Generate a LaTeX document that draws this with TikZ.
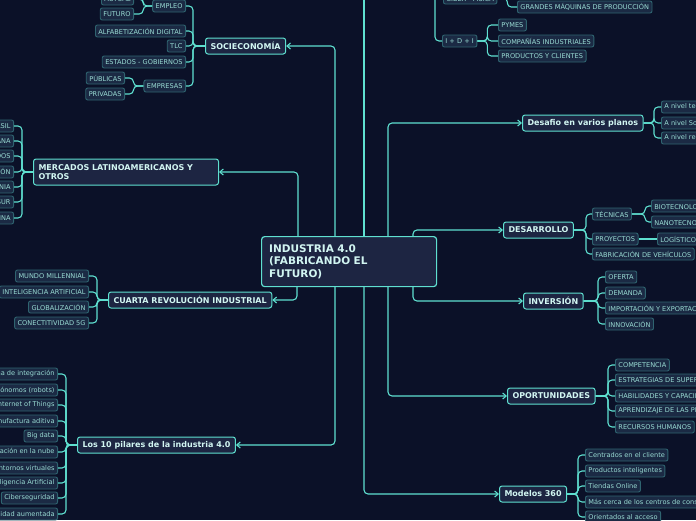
\documentclass[tikz,border=0pt]{standalone}
\usepackage{fontspec}
\setmainfont{DejaVu Sans}
\usetikzlibrary{arrows.meta}
\definecolor{bg}{HTML}{0B1128}
\definecolor{ln}{HTML}{5FE0D0}
\definecolor{mfill}{HTML}{1D2542}
\definecolor{lfill}{HTML}{1B2A44}
\definecolor{lbord}{HTML}{2F6470}
\definecolor{ltext}{HTML}{9ADCD4}
\definecolor{btext}{HTML}{D2F6F2}
\tikzset{
 mainbox/.style={draw=ln,line width=1.2pt,fill=mfill,rounded corners=3pt,text=btext,font=\fontsize{10.5}{12.5}\selectfont\bfseries,align=left,text width=160pt,minimum height=50pt,inner xsep=7pt},
 brbox/.style={draw=ln,line width=1pt,fill=mfill,rounded corners=2.5pt,text=btext,font=\fontsize{8}{9.5}\selectfont\bfseries,minimum height=16pt,inner xsep=5pt,inner ysep=2pt},
 leaf/.style={draw=lbord,line width=0.9pt,fill=lfill,rounded corners=2pt,text=ltext,font=\fontsize{6.6}{7.4}\selectfont,minimum height=12pt,inner xsep=3pt,inner ysep=1.5pt},
 conn/.style={draw=ln,line width=1.1pt,rounded corners=4pt},
 aconn/.style={conn,-{Straight Barb[length=3.5pt,width=6pt]}},
}
\begin{document}
\begin{tikzpicture}[x=1pt,y=-1pt]
\fill[bg] (0,0) rectangle (696,520);
\clip (0,0) rectangle (696,520);
\useasboundingbox (0,0) rectangle (696,520);

\node[mainbox,anchor=north west,minimum width=175pt] (c) at (261,236) {INDUSTRIA 4.0\\(FABRICANDO EL\\FUTURO)};

% branches
\node[brbox,anchor=west] (soc) at (205,46) {SOCIECONOMÍA};
\node[brbox,anchor=west,align=left,text width=175pt,minimum height=26pt] (mer) at (33,172) {MERCADOS LATINOAMERICANOS Y\\OTROS};
\node[brbox,anchor=west] (cua) at (108,300) {CUARTA REVOLUCIÓN INDUSTRIAL};
\node[brbox,anchor=west] (pil) at (77,445) {Los 10 pilares de la industria 4.0};
\node[brbox,anchor=west] (des) at (522,123) {Desafio en varios planos};
\node[brbox,anchor=west] (dsr) at (503,230) {DESARROLLO};
\node[brbox,anchor=west] (inv) at (523,301) {INVERSIÓN};
\node[brbox,anchor=west] (opo) at (507,396) {OPORTUNIDADES};
\node[brbox,anchor=west] (mod) at (499,494) {Modelos 360};

\coordinate (t1) at (335,236); \coordinate (t2) at (298,236);
\coordinate (t3) at (364,236); \coordinate (t4) at (388,236);
\coordinate (t5) at (413,236);
\coordinate (b1) at (297,286); \coordinate (b2) at (335,286);
\coordinate (b3) at (364,286); \coordinate (b4) at (388,286);
\coordinate (b5) at (413,286);
\coordinate (top1) at (364,-10); \coordinate (top2) at (435,-10);

\draw[aconn] (t1) |- (soc.east);
\draw[aconn] (t2) |- (mer.east);
\draw[aconn] (b1) |- (cua.east);
\draw[aconn] (b2) |- (pil.east);
\draw[aconn] (t4) |- (des.west);
\draw[aconn] (t5) |- (dsr.west);
\draw[aconn] (b5) |- (inv.west);
\draw[aconn] (b4) |- (opo.west);
\draw[aconn] (b3) |- (mod.west);
\draw[conn] (t3) -- (top1);

% top: ciber / I+D+I
\node[leaf,anchor=west] (cib) at (443,-2) {CIBER - FÍSICA};
\node[leaf,anchor=west] (idi) at (442,41) {I + D + I};
\node[leaf,anchor=west] (gra) at (517,7) {GRANDES MÁQUINAS DE PRODUCCIÓN};
\draw[conn] (top2) |- (idi.west);
\draw[conn] (top2) |- (cib.west);
\draw[conn] (cib.east) -- ++(10,0) |- (gra.west);
\foreach \n/\y/\t in {p1/25/PYMES,p2/41/COMPAÑÍAS INDUSTRIALES,p3/56/PRODUCTOS Y CLIENTES}{
 \node[leaf,anchor=west] (\n) at (498,\y) {\t};
 \draw[conn] (idi.east) -- ++(10,0) |- (\n.west);}

% socioeconomia
\foreach \n/\y/\t in {emp/6/EMPLEO,alf/31/ALFABETIZACIÓN DIGITAL,tlc/46/TLC,est/62/ESTADOS - GOBIERNOS,epr/86/EMPRESAS}{
 \node[leaf,anchor=east] (\n) at (186,\y) {\t};
 \draw[conn] (soc.west) -- (193,46) |- (\n.east);}
\foreach \n/\y/\t in {ac/-1/ACTUAL,fu/14/FUTURO}{
 \node[leaf,anchor=east] (\n) at (134,\y) {\t};
 \draw[conn] (emp.west) -- ++(-9,0) |- (\n.east);}
\foreach \n/\y/\t in {pu/78/PÚBLICAS,pr/94/PRIVADAS}{
 \node[leaf,anchor=east] (\n) at (125,\y) {\t};
 \draw[conn] (epr.west) -- ++(-10,0) |- (\n.east);}

% mercados
\foreach \n/\y/\t in {m1/126/BRASIL,m2/141/GUAYANA,m3/156/ESTADOS UNIDOS,m4/172/JAPÓN,m5/187/ALEMANIA,m6/202/MERCOSUR,m7/218/CHINA}{
 \node[leaf,anchor=east] (\n) at (14,\y) {\t};
 \draw[conn] (mer.west) -- (22,172) |- (\n.east);}

% cuarta
\foreach \n/\y/\t in {c1/276/MUNDO MILLENNIAL,c2/292/INTELIGENCIA ARTIFICIAL,c3/307/GLOBALIZACIÓN,c4/323/CONECTITIVIDAD 5G}{
 \node[leaf,anchor=east] (\n) at (89,\y) {\t};
 \draw[conn] (cua.west) -- (97,300) |- (\n.east);}

% pilares
\foreach \n/\y/\t in {q1/374/Sistema de integración,q2/390/Sistemas autónomos (robots),q3/405/Internet of Things,q4/421/Manufactura aditiva,q5/436/Big data,q6/452/Computación en la nube,q7/468/Entornos virtuales,q8/483/Inteligencia Artificial,q9/498/Ciberseguridad,q10/514/Realidad aumentada}{
 \node[leaf,anchor=east] (\n) at (58,\y) {\t};
 \draw[conn] (pil.west) -- (66,445) |- (\n.east);}

% desafio
\foreach \n/\y/\t in {d1/107/A nivel tecnológico,d2/123/A nivel Social,d3/138/A nivel regulatorio}{
 \node[leaf,anchor=west] (\n) at (661,\y) {\t};
 \draw[conn] (des.east) -- (654,123) |- (\n.west);}

% desarrollo
\node[leaf,anchor=west] (tec) at (592,214) {TÉCNICAS};
\node[leaf,anchor=west] (pro) at (592,239) {PROYECTOS};
\node[leaf,anchor=west] (fab) at (592,254) {FABRICACIÓN DE VEHÍCULOS};
\foreach \n in {tec,pro,fab}{\draw[conn] (dsr.east) -- (586,230) |- (\n.west);}
\node[leaf,anchor=west] (bio) at (651,206) {BIOTECNOLOGÍA};
\node[leaf,anchor=west] (nan) at (651,222) {NANOTECNOLOGÍA};
\foreach \n in {bio,nan}{\draw[conn] (tec.east) -- (645,214) |- (\n.west);}
\node[leaf,anchor=west] (log) at (657,239) {LOGÍSTICOS};
\draw[conn] (pro.east) -- (log.west);

% inversion
\foreach \n/\y/\t in {i1/277/OFERTA,i2/293/DEMANDA,i3/308/IMPORTACIÓN Y EXPORTACIÓN,i4/324/INNOVACIÓN}{
 \node[leaf,anchor=west] (\n) at (605,\y) {\t};
 \draw[conn] (inv.east) -- (598,301) |- (\n.west);}

% oportunidades
\foreach \n/\y/\t in {o1/365/COMPETENCIA,o2/380/ESTRATEGIAS DE SUPERVIVENCIA,o3/396/HABILIDADES Y CAPACIDADES,o4/411/APRENDIZAJE DE LAS PERSONAS,o5/427/RECURSOS HUMANOS}{
 \node[leaf,anchor=west] (\n) at (615,\y) {\t};
 \draw[conn] (opo.east) -- (608,396) |- (\n.west);}

% modelos
\foreach \n/\y/\t in {r1/455/Centrados en el cliente,r2/471/Productos inteligentes,r3/486/Tiendas Online,r4/502/Más cerca de los centros de consumo,r5/517/Orientados al acceso}{
 \node[leaf,anchor=west] (\n) at (585,\y) {\t};
 \draw[conn] (mod.east) -- (578,494) |- (\n.west);}
\end{tikzpicture}
\end{document}
